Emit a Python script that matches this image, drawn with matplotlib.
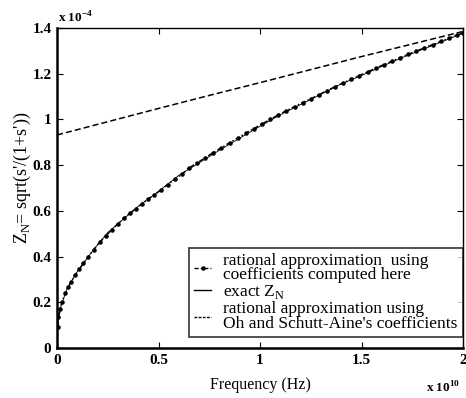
import matplotlib
matplotlib.use("Agg")
import matplotlib.pyplot as plt
from matplotlib.lines import Line2D

# frequency in units of 1e10 Hz, impedance in units of 1e-4
freq_approx = [0, 0.003, 0.007, 0.015, 0.025, 0.04, 0.055, 0.07, 0.09, 0.11, 0.13,
               0.155, 0.18, 0.21, 0.24, 0.27, 0.30, 0.33, 0.36, 0.39, 0.42, 0.45,
               0.48, 0.51, 0.545, 0.58, 0.615, 0.65, 0.69, 0.73, 0.77, 0.81, 0.85,
               0.89, 0.93, 0.97, 1.01, 1.05, 1.09, 1.13, 1.17, 1.21, 1.25, 1.29,
               1.33, 1.37, 1.41, 1.45, 1.49, 1.53, 1.57, 1.61, 1.65, 1.69, 1.73,
               1.77, 1.81, 1.85, 1.89, 1.93, 1.97, 2.0]
z_approx = [0.0, 0.09, 0.135, 0.17, 0.20, 0.24, 0.265, 0.29, 0.32, 0.345, 0.37,
            0.40, 0.43, 0.462, 0.49, 0.518, 0.543, 0.568, 0.59, 0.61, 0.632, 0.652,
            0.67, 0.69, 0.715, 0.738, 0.76, 0.787, 0.81, 0.832, 0.855, 0.876, 0.898,
            0.918, 0.94, 0.96, 0.98, 1.0, 1.02, 1.038, 1.056, 1.074, 1.09, 1.108,
            1.126, 1.143, 1.16, 1.176, 1.192, 1.208, 1.224, 1.24, 1.255, 1.27, 1.285,
            1.299, 1.313, 1.327, 1.341, 1.355, 1.368, 1.378]

freq_exact = [0, 0.005, 0.02, 0.05, 0.1, 0.15, 0.2, 0.25, 0.3, 0.4, 0.5, 0.6, 0.7,
              0.8, 0.9, 1.0, 1.1, 1.2, 1.3, 1.4, 1.5, 1.6, 1.7, 1.8, 1.9, 2.0]
z_exact = [0.0, 0.11, 0.185, 0.26, 0.335, 0.395, 0.452, 0.505, 0.543, 0.62, 0.685,
           0.755, 0.81, 0.865, 0.918, 0.97, 1.02, 1.065, 1.11, 1.155, 1.192, 1.232,
           1.27, 1.306, 1.341, 1.378]

freq_oh = [0, 0.25, 0.5, 0.75, 1.0, 1.25, 1.5, 1.75, 2.0]
z_oh = [0.932, 0.99, 1.048, 1.105, 1.161, 1.218, 1.275, 1.33, 1.385]

xticks = [0, 0.5, 1, 1.5, 2]
xticklabels = ["0", "0.5", "1", "1.5", "2"]
yticks = [0, 0.2, 0.4, 0.6, 0.8, 1.0, 1.2, 1.4]
yticklabels = ["0", "0.2", "0.4", "0.6", "0.8", "1", "1.2", "1.4"]

plt.rcParams['font.family'] = ['Liberation Serif', 'DejaVu Serif']

fig = plt.figure(figsize=(4.66, 3.98), dpi=100)
ax = fig.add_axes([57/466, 1-348/398, (463-57)/466, (348-28)/398])

ax.plot(freq_exact, z_exact, '-', color='black', lw=0.6)
ax.plot(freq_approx, z_approx, color='black', lw=1.1, linestyle=(0, (3, 1.5, 1, 1.5)),
        marker='.', ms=4.5)
ax.plot(freq_oh, z_oh, color='black', lw=1.1, linestyle=(0, (4, 2)))

ax.set_xlim(0, 2)
ax.set_ylim(0, 1.4)
ax.set_xticks(xticks)
ax.set_xticklabels(xticklabels, fontsize=11, fontweight='bold')
ax.set_yticks(yticks)
ax.set_yticklabels(yticklabels, fontsize=11, fontweight='bold')
ax.tick_params(direction='in', top=True, right=True, length=4, width=0.8, pad=4)
for side in ['left', 'bottom']:
    ax.spines[side].set_linewidth(1.8)
for side in ['top', 'right']:
    ax.spines[side].set_linewidth(1.0)

ax.set_xlabel("Frequency (Hz)", fontsize=11.5)
ax.xaxis.set_label_coords((260-57)/406, -(377-348)/320)
ax.set_ylabel("Z$_\\mathregular{N}$= sqrt(s'/(1+s'))", fontsize=13)
ax.yaxis.set_label_coords(-(57-33)/406, (348-178)/320)

fig.text(58/466, 1-18/398, "x 10$^{\\mathregular{-4}}$", fontsize=9.5, fontweight='bold', va='center')
fig.text(426/466, 1-388/398, "x 10$^{\\mathregular{10}}$", fontsize=9.5, fontweight='bold', va='center')

handles = [
    Line2D([], [], color='black', lw=1.0, linestyle=(0, (3, 1.5, 1, 1.5)), marker='.', ms=4.5,
           markevery=[1]),
    Line2D([], [], color='black', lw=1.0, linestyle='-'),
    Line2D([], [], color='black', lw=1.0, linestyle=(0, (2, 1))),
]
labels = ["rational approximation  using\ncoefficients computed here",
          "exact Z$_\\mathregular{N}$",
          "rational approximation using\nOh and Schutt-Aine's coefficients"]
leg = ax.legend(handles, labels, loc='lower right', bbox_to_anchor=(1.0, 0.034),
                borderaxespad=0, fontsize=12.5, handlelength=1.0, handletextpad=0.7,
                labelspacing=0.0, frameon=True, fancybox=False, borderpad=0.3)
for t in leg.get_texts():
    t.set_linespacing(0.88)
leg.get_frame().set_edgecolor('black')
leg.get_frame().set_linewidth(1.2)

fig.savefig("out.png", dpi=100)
